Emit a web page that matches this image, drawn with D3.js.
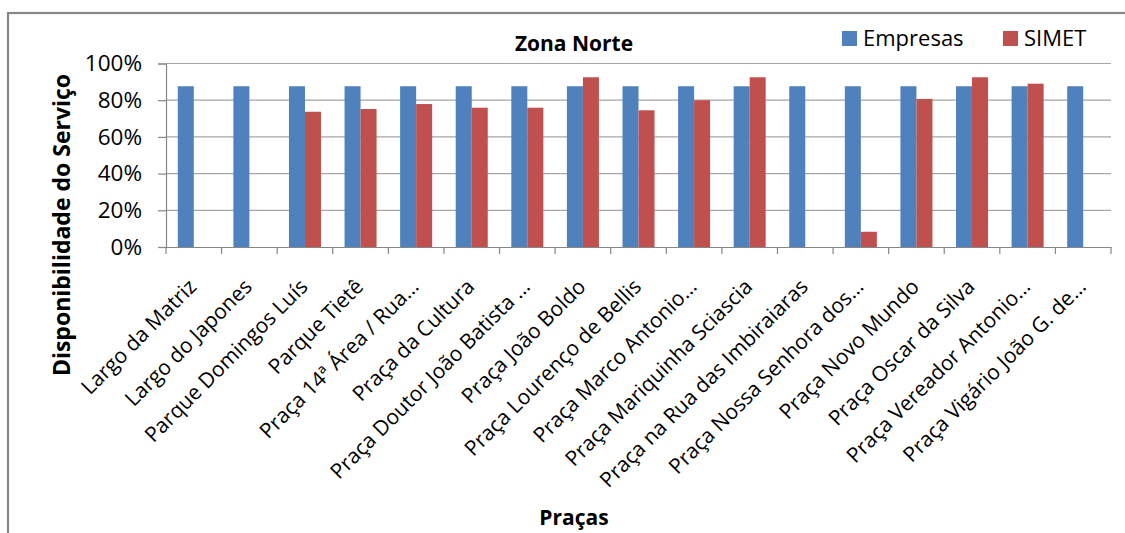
<!DOCTYPE html>
<html><head><meta charset="utf-8">
<script src="https://cdn.jsdelivr.net/npm/d3@7"></script>
<style>body{margin:0;background:#fff}svg{display:block}text{font-family:"Open Sans",sans-serif}</style>
</head><body><svg id="c" width="1125" height="533"></svg>
<script>
const categories = ["Largo da Matriz","Largo do Japones","Parque Domingos Luís","Parque Tietê","Praça 14ª Área / Rua…","Praça da Cultura","Praça Doutor João Batista …","Praça João Boldo","Praça Lourenço de Bellis","Praça Marco Antonio…","Praça Mariquinha Sciascia","Praça na Rua das Imbiraiaras","Praça Nossa Senhora dos…","Praça Novo Mundo","Praça Oscar da Silva","Praça Vereador  Antonio…","Praça Vigário João G. de…"];
const empresas = [0.876,0.876,0.876,0.876,0.876,0.876,0.876,0.876,0.876,0.876,0.876,0.876,0.876,0.876,0.876,0.876,0.876];
const simet = [null,null,0.737,0.752,0.779,0.759,0.759,0.925,0.745,0.80,0.925,null,0.083,0.807,0.925,0.89,null];
const seriesNames = ["Empresas","SIMET"];
const colors = ["#4F81BD","#C0504D"];
const yTicks = [0,0.2,0.4,0.6,0.8,1.0];

const svg = d3.select("#c");
const L=166,R=1111,T=63.5,B=247;
svg.append("rect").attr("x",8).attr("y",13).attr("width",1130).attr("height",540).attr("fill","#fff").attr("stroke","#878787").attr("stroke-width",2.2);

const x = d3.scaleBand().domain(categories).range([L,R]);
const y = d3.scaleLinear().domain([0,1]).range([B,T]);

svg.append("g").selectAll("line").data(yTicks.slice(1)).join("line")
  .attr("x1",L).attr("x2",R).attr("y1",d=>y(d)).attr("y2",d=>y(d)).attr("stroke","#a6a6a6").attr("stroke-width",1.2);

const bw = x.bandwidth()*0.288;
const g = svg.append("g");
categories.forEach((c,i)=>{
  [empresas[i],simet[i]].forEach((v,k)=>{
    if(v==null) return;
    const cx = x(c)+x.bandwidth()/2;
    g.append("rect").attr("x",cx-bw+k*bw).attr("width",bw).attr("y",y(v)).attr("height",B-y(v)).attr("fill",colors[k]);
  });
});

// y axis
const ya = svg.append("g").attr("transform",`translate(${L},0)`).call(d3.axisLeft(y).tickValues(yTicks).tickFormat(d3.format(".0%")).tickSize(8).tickPadding(16));
ya.select(".domain").attr("stroke","#868686").attr("stroke-width",1.2);
ya.selectAll(".tick line").attr("stroke","#868686").attr("stroke-width",1.2);
ya.selectAll("text").attr("font-size",22.5).attr("fill","#000").style("font-family","'Open Sans',sans-serif");

// x axis
const xa = svg.append("g").attr("transform",`translate(0,${B})`).call(d3.axisBottom(x).tickSize(0).tickFormat(""));
xa.select(".domain").attr("stroke","#868686").attr("stroke-width",1.2);
const bounds = categories.map(c=>x(c)).concat([R]);
xa.append("g").selectAll("line").data(bounds).join("line").attr("x1",d=>d).attr("x2",d=>d).attr("y1",0).attr("y2",7).attr("stroke","#868686").attr("stroke-width",1.2);
svg.append("g").selectAll("text").data(categories).join("text")
  .attr("transform",d=>`translate(${x(d)+x.bandwidth()/2+4},${B+41}) rotate(-45)`)
  .attr("text-anchor","end").attr("font-size",21).attr("fill","#000").text(d=>d);

// titles
svg.append("text").attr("x",574).attr("y",51).attr("text-anchor","middle").attr("font-size",21).attr("font-weight","bold").text("Zona Norte");
svg.append("text").attr("transform","translate(70,225) rotate(-90)").attr("text-anchor","middle").attr("font-size",23).attr("font-weight","bold").text("Disponibilidade do Serviço");
svg.append("text").attr("x",574).attr("y",525).attr("text-anchor","middle").attr("font-size",21).attr("font-weight","bold").text("Praças");

// legend
const lx=[842,1003];
seriesNames.forEach((n,i)=>{
  svg.append("rect").attr("x",lx[i]).attr("y",31).attr("width",15).attr("height",15).attr("fill",colors[i]);
  svg.append("text").attr("x",lx[i]+21).attr("y",46).attr("font-size",22).attr("fill","#000").text(n);
});
</script></body></html>
